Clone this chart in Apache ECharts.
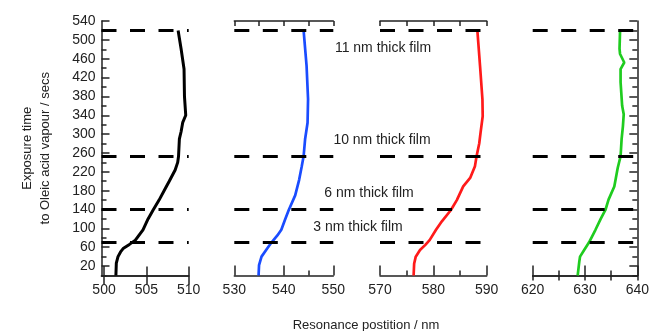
<!DOCTYPE html>
<html>
<head>
<meta charset="utf-8">
<script src="https://cdn.jsdelivr.net/npm/echarts@6/dist/echarts.min.js"></script>
<style>
html, body { margin: 0; padding: 0; background: #fff; }
#chart { width: 652px; height: 331px; }
</style>
</head>
<body>
<div id="chart"></div>
<script>
// exposure time (secs) and resonance position (nm)
var blackTime = [0, 26, 40, 50, 58, 66, 75, 97, 120, 139, 160, 185, 200, 224, 240, 253, 290, 305, 325, 340, 380, 438, 481, 520];
var blackPos = [501.4, 501.45, 501.65, 501.95, 502.3, 503.0, 503.7, 504.6, 505.2, 505.8, 506.5, 507.25, 507.7, 508.4, 508.7, 508.8, 508.9, 509.1, 509.3, 509.65, 509.5, 509.45, 509.1, 508.75];

var blueTime = [0, 22, 40, 55, 70, 85, 97, 120, 139, 170, 203, 230, 253, 289, 324, 374, 445, 520];
var bluePos = [534.9, 535.0, 535.5, 536.5, 537.5, 538.7, 539.5, 540.3, 541.0, 542.3, 543.1, 543.6, 544.0, 544.3, 544.8, 544.9, 544.6, 544.0];

var redTime = [0, 25, 40, 54, 65, 75, 97, 115, 139, 160, 189, 207, 232, 253, 280, 303, 338, 374, 445, 520];
var redPos = [576.3, 576.4, 576.7, 577.5, 578.5, 579.3, 580.5, 581.6, 583.3, 584.4, 585.6, 586.9, 587.8, 588.1, 588.6, 588.85, 589.25, 589.2, 588.75, 588.25];

var greenTime = [0, 29, 40, 55, 70, 97, 120, 139, 161, 189, 207, 228, 253, 290, 317, 342, 360, 410, 438, 452, 470, 481, 520];
var greenPos = [628.6, 628.9, 629.05, 629.9, 630.75, 632.0, 633.0, 633.9, 634.5, 635.6, 635.9, 636.25, 636.8, 637.0, 637.25, 637.4, 637.1, 636.8, 636.8, 637.5, 636.7, 636.6, 636.7];

// film boundaries (dashed lines)
var filmTimes = [520, 252, 140, 70];
var filmLabels = ['11 nm thick film', '10 nm thick film', '6 nm thick film', '3 nm thick film'];

// tick labels
var yLabels = [20, 60, 100, 140, 180, 220, 260, 300, 340, 380, 420, 460, 500, 540];
var yMinor = [0, 40, 80, 120, 160, 200, 240, 280, 320, 360, 400, 440, 480, 520];
var x1Labels = [500, 505, 510];

var chart = echarts.init(document.getElementById('chart'));

var ink = '#222';
var font = 'Liberation Sans, Arial, sans-serif';

function pairs(t, p) {
	var out = [];
	for (var i = 0; i < t.length; i++) out.push([p[i], t[i]]);
	return out;
}

function bottomAxis(grid, min, max) {
	return {
		type: 'value', gridIndex: grid, position: 'bottom', min: min, max: max, interval: 10,
		axisLine: { lineStyle: { color: ink, width: 1.5 } },
		axisTick: { inside: true, length: 10, lineStyle: { color: ink, width: 1.5 } },
		minorTick: { show: true, splitNumber: 2, length: 5, lineStyle: { color: ink, width: 1.5 } },
		axisLabel: { color: ink, fontSize: 14, fontFamily: font, margin: 8 },
		splitLine: { show: false }
	};
}
function topAxis(grid, min, max) {
	return {
		type: 'value', gridIndex: grid, position: 'top', min: min, max: max, interval: 10,
		axisLine: { lineStyle: { color: ink, width: 1.5 } },
		axisTick: { inside: true, length: 5, lineStyle: { color: ink, width: 1.5 } },
		minorTick: { show: true, splitNumber: 2, length: 5, lineStyle: { color: ink, width: 1.5 } },
		axisLabel: { show: false },
		splitLine: { show: false }
	};
}
function hiddenY(grid) {
	return { type: 'value', gridIndex: grid, min: 0, max: 540, show: false };
}

function markLines() {
	return {
		silent: true,
		symbol: ['none', 'none'],
		label: { show: false },
		lineStyle: { color: '#000', width: 3, type: [15, 13.5] },
		data: filmTimes.map(function (v) { return { yAxis: v }; })
	};
}

var graphics = filmLabels.map(function (txt, i) {
	var pos = [[383, 48], [382, 140], [369, 193], [358, 227]][i];
	return {
		type: 'text', x: pos[0], y: pos[1],
		style: { text: txt, fill: ink, font: '14px ' + font, textAlign: 'center', textVerticalAlign: 'middle' }
	};
});
graphics.push({
	type: 'text', x: 366, y: 325,
	style: { text: 'Resonance postition / nm', fill: ink, font: '13px ' + font, textAlign: 'center', textVerticalAlign: 'middle' }
});

chart.setOption({
	animation: false,
	grid: [
		{ left: 101.5, top: 21, width: 87.2, height: 254.5 },
		{ left: 234.3, top: 21, width: 99, height: 254.5 },
		{ left: 380, top: 21, width: 106.7, height: 254.5 },
		{ left: 532.7, top: 21, width: 107.5, height: 254.5 }
	],
	xAxis: [
		{
			type: 'value', gridIndex: 0, position: 'bottom', min: 499.7, max: 510,
			axisLine: { lineStyle: { color: ink, width: 1.5 } },
			axisTick: { inside: true, length: 9, customValues: x1Labels, lineStyle: { color: ink, width: 1.5 } },
			axisLabel: { color: ink, fontSize: 14, fontFamily: font, margin: 8, customValues: x1Labels },
			splitLine: { show: false }
		},
		{
			type: 'value', gridIndex: 0, position: 'top', min: 499.7, max: 510,
			axisLine: { lineStyle: { color: ink, width: 1.5 } },
			axisTick: { inside: true, length: 9, customValues: x1Labels, lineStyle: { color: ink, width: 1.5 } },
			axisLabel: { show: false },
			splitLine: { show: false }
		},
		bottomAxis(1, 530, 550), topAxis(1, 530, 550),
		bottomAxis(2, 570, 590), topAxis(2, 570, 590),
		bottomAxis(3, 620, 640), topAxis(3, 620, 640)
	],
	yAxis: [
		{
			type: 'value', gridIndex: 0, position: 'left', min: 0, max: 540,
			name: 'Exposure time\nto Oleic acid vapour / secs',
			nameLocation: 'middle', nameRotate: 90, nameGap: 47,
			nameTextStyle: { color: ink, fontSize: 13, fontFamily: font, lineHeight: 18 },
			axisLine: { lineStyle: { color: ink, width: 1.5 } },
			axisTick: { inside: true, length: 8, customValues: yLabels, lineStyle: { color: ink, width: 1.5 } },
			axisLabel: { color: ink, fontSize: 14, fontFamily: font, margin: 6, customValues: yLabels },
			splitLine: { show: false }
		},
		{
			type: 'value', gridIndex: 0, position: 'left', min: 0, max: 540,
			axisLine: { show: false },
			axisTick: { inside: true, length: 5, customValues: yMinor, lineStyle: { color: ink, width: 1.5 } },
			axisLabel: { show: false },
			splitLine: { show: false }
		},
		hiddenY(1),
		hiddenY(2),
		{
			type: 'value', gridIndex: 3, position: 'right', min: 0, max: 540,
			axisLine: { lineStyle: { color: ink, width: 1.5 } },
			axisTick: { inside: true, length: 8, customValues: yLabels, lineStyle: { color: ink, width: 1.5 } },
			axisLabel: { show: false },
			splitLine: { show: false }
		},
		{
			type: 'value', gridIndex: 3, position: 'right', min: 0, max: 540,
			axisLine: { show: false },
			axisTick: { inside: true, length: 5, customValues: yMinor, lineStyle: { color: ink, width: 1.5 } },
			axisLabel: { show: false },
			splitLine: { show: false }
		}
	],
	series: [
		{
			type: 'line', xAxisIndex: 0, yAxisIndex: 0, data: pairs(blackTime, blackPos),
			showSymbol: false, lineStyle: { color: '#000', width: 3 }, markLine: markLines()
		},
		{
			type: 'line', xAxisIndex: 2, yAxisIndex: 2, data: pairs(blueTime, bluePos),
			showSymbol: false, lineStyle: { color: '#1a4cff', width: 2.7 }, markLine: markLines()
		},
		{
			type: 'line', xAxisIndex: 4, yAxisIndex: 3, data: pairs(redTime, redPos),
			showSymbol: false, lineStyle: { color: '#ff1a1a', width: 2.7 }, markLine: markLines()
		},
		{
			type: 'line', xAxisIndex: 6, yAxisIndex: 4, data: pairs(greenTime, greenPos),
			showSymbol: false, lineStyle: { color: '#1fcc1f', width: 2.7 }, markLine: markLines()
		}
	],
	graphic: graphics
});
</script>
</body>
</html>
